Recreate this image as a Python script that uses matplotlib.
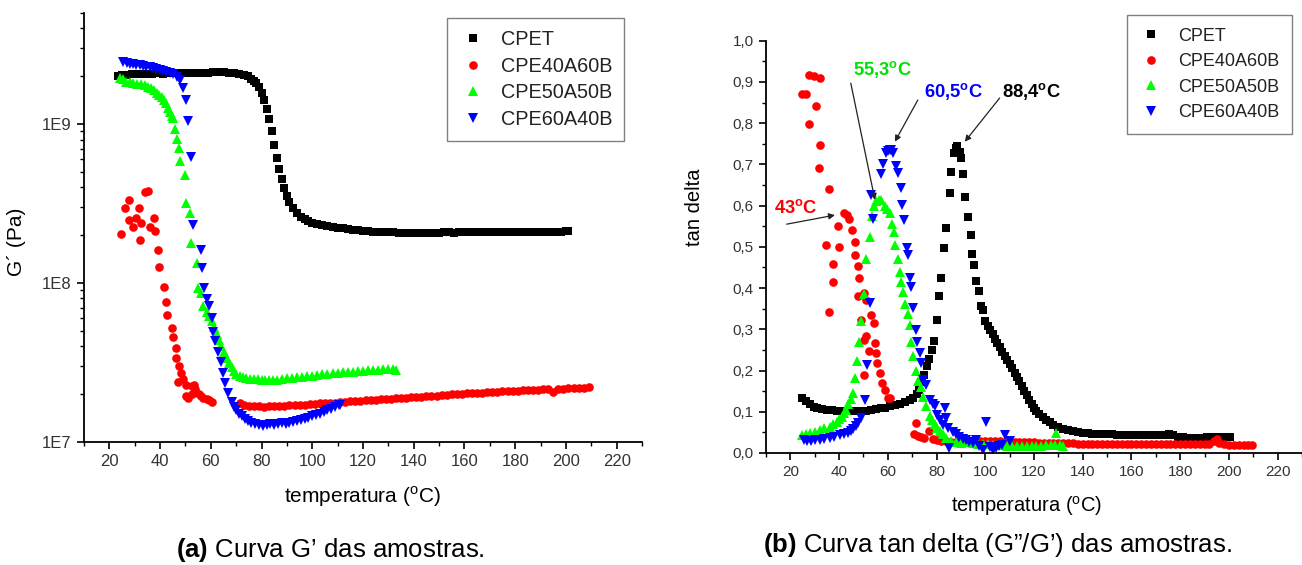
import numpy as np
import matplotlib
matplotlib.use('Agg')
import matplotlib.pyplot as plt
from matplotlib.ticker import MultipleLocator, FixedLocator, FixedFormatter, LogLocator, NullFormatter, FuncFormatter

plt.rcParams['font.family'] = ['Liberation Sans', 'DejaVu Sans']
plt.rcParams['mathtext.fontset'] = 'custom'
plt.rcParams['mathtext.rm'] = 'Liberation Sans'
plt.rcParams['mathtext.bf'] = 'Liberation Sans:bold'

labels = ['CPET', 'CPE40A60B', 'CPE50A50B', 'CPE60A40B']

# (a) G' vs temperatura, G' em unidades de 1e8 Pa
g_cpet = [(23.5, 20.0), (25, 20.3), (27, 20.5), (29, 20.6), (31, 20.7), (33, 20.7), (35, 20.8), (37, 20.8),
          (39, 20.9), (41, 20.8), (43, 20.9), (45, 20.9), (47, 21.0), (49, 21.0), (51, 21.0), (53, 21.1),
          (55, 21.1), (57, 21.0), (59, 21.1), (61, 21.2), (63, 21.2), (65, 21.2), (67, 21.1), (69, 21.0),
          (71, 20.8), (73, 20.5), (74.5, 20.0), (76, 19.3), (77, 18.8), (78, 18.2), (79, 17.2), (80, 15.8),
          (81, 14.2), (82, 12.5), (83, 10.8), (84, 9.0), (85, 7.4), (86, 6.1), (87, 5.2), (88, 4.5),
          (89, 3.95), (90, 3.55), (91, 3.25), (92.5, 2.95), (94, 2.75), (95.5, 2.62), (97, 2.52), (98.5, 2.45),
          (100, 2.40), (102, 2.35), (104, 2.31), (106, 2.28), (108, 2.25), (110, 2.23), (112, 2.21), (114, 2.19),
          (116, 2.17), (118, 2.15), (120, 2.13), (122, 2.12), (124, 2.11), (126, 2.10), (128, 2.09), (130, 2.08),
          (132, 2.08), (134, 2.07), (136, 2.07), (138, 2.07), (140, 2.06), (142, 2.07), (144, 2.07), (146, 2.06),
          (148, 2.07), (150, 2.07), (152, 2.08), (154, 2.08), (156, 2.07), (158, 2.08), (160, 2.08), (162, 2.08),
          (164, 2.09), (166, 2.08), (168, 2.09), (170, 2.09), (172, 2.08), (174, 2.09), (176, 2.09), (178, 2.10),
          (180, 2.09), (182, 2.09), (184, 2.10), (186, 2.10), (188, 2.09), (190, 2.10), (192, 2.10), (194, 2.10),
          (196, 2.11), (198, 2.10), (200, 2.12), (201, 2.13)]

g_cpe40 = [(24.7, 2.04), (26, 2.95), (27.6, 3.31), (27.9, 2.51), (29.5, 2.24), (30.5, 2.57), (31.7, 2.95),
           (32.2, 1.86), (32.3, 2.40), (34.2, 3.72), (35.4, 3.80), (36.2, 2.24), (37.5, 2.57), (37.8, 2.14),
           (39.2, 1.62), (39.4, 1.26), (41.5, 0.95), (42.5, 0.76), (42.9, 0.63), (44.5, 0.52), (44.9, 0.46),
           (46.2, 0.39), (46.3, 0.34), (47.1, 0.24), (47.5, 0.30), (48.4, 0.27), (49.2, 0.25), (50.1, 0.195),
           (50.4, 0.23), (51.0, 0.19), (52.4, 0.224), (52.6, 0.20), (53.2, 0.23), (53.9, 0.214), (55.2, 0.20),
           (56.0, 0.195), (57.0, 0.19), (58.3, 0.186), (59.3, 0.183), (60.3, 0.178),
           (71.5, 0.176), (73, 0.171), (75, 0.169), (77, 0.168), (79, 0.168), (81, 0.167), (83, 0.168),
           (85, 0.168), (87, 0.169), (89, 0.169), (91, 0.170), (93, 0.171), (95, 0.171), (97, 0.172),
           (99, 0.173), (101, 0.174), (103, 0.175), (105, 0.176), (107, 0.177), (109, 0.177), (111, 0.178),
           (113, 0.179), (115, 0.180), (117, 0.181), (119, 0.182), (121, 0.183), (123, 0.184), (125, 0.185),
           (127, 0.186), (129, 0.186), (131, 0.187), (133, 0.188), (135, 0.189), (137, 0.190), (139, 0.191),
           (141, 0.192), (143, 0.193), (145, 0.194), (147, 0.195), (149, 0.196), (151, 0.197), (153, 0.198),
           (155, 0.199), (157, 0.200), (159, 0.201), (161, 0.202), (163, 0.202), (165, 0.203), (167, 0.204),
           (169, 0.205), (171, 0.206), (173, 0.207), (175, 0.208), (177, 0.209), (179, 0.209), (181, 0.210),
           (183, 0.211), (185, 0.212), (187, 0.213), (189, 0.213), (191, 0.214), (193, 0.215), (195, 0.205),
           (197, 0.216), (199, 0.217), (201, 0.218), (203, 0.218), (205, 0.219), (207, 0.220), (209, 0.221)]

g_cpe50 = [(24.1, 19.4), (25.4, 19.2), (26.7, 18.5), (28.0, 18.3), (29.3, 18.1), (30.7, 18.0), (32.3, 17.8),
           (34.0, 17.6), (35.3, 17.1), (36.6, 16.8), (37.6, 16.3), (38.6, 15.7), (39.6, 15.3), (40.6, 14.8),
           (41.5, 14.2), (42.5, 13.5), (43.2, 12.7), (43.8, 11.9), (44.5, 11.3), (45.1, 10.9), (45.8, 9.3),
           (46.5, 8.1), (47.5, 7.1), (48.0, 5.9), (49.7, 4.8), (50.1, 3.2), (51.7, 2.75), (52.3, 1.78),
           (54.6, 1.33), (55.1, 0.93), (56.2, 0.86), (57.0, 0.72), (58.3, 0.66), (59.3, 0.62), (60.3, 0.575),
           (61.3, 0.53), (62.3, 0.48), (63.2, 0.44), (64.2, 0.40), (65.2, 0.37), (66.2, 0.34), (67.2, 0.315),
           (68.2, 0.295), (69.2, 0.28), (70.1, 0.269), (71.4, 0.262), (72.7, 0.257), (74.0, 0.253), (75.5, 0.250),
           (77.0, 0.249), (78.5, 0.248), (80.0, 0.246), (81.5, 0.246), (83.0, 0.245), (84.5, 0.246), (86, 0.247),
           (88, 0.249), (90, 0.251), (92, 0.253), (94, 0.255), (96, 0.257), (98, 0.260), (100, 0.262),
           (102, 0.264), (104, 0.266), (106, 0.268), (108, 0.270), (110, 0.272), (112, 0.274), (114, 0.276),
           (116, 0.277), (118, 0.279), (120, 0.280), (122, 0.282), (124, 0.283), (126, 0.285), (128, 0.287),
           (130, 0.289), (132, 0.290), (133, 0.285)]

g_cpe60 = [(25.5, 24.5), (26.8, 24.3), (28.0, 24.0), (29.3, 23.8), (30.6, 23.6), (32.0, 23.4), (33.3, 23.2),
           (34.6, 23.0), (35.9, 22.8), (37.2, 22.4), (38.5, 22.2), (39.8, 21.9), (41.2, 21.6), (42.5, 21.2),
           (43.8, 20.9), (45.1, 20.6), (46.5, 19.8), (47.8, 18.9), (49.1, 16.8), (50.1, 14.1), (51.0, 10.5),
           (52.1, 6.2), (53.0, 2.32), (56.3, 1.62), (56.7, 1.25), (57.2, 0.93), (58.3, 0.79), (59.2, 0.72),
           (60.3, 0.60), (60.9, 0.49), (61.5, 0.43), (62.9, 0.37), (64.2, 0.32), (64.9, 0.27), (65.5, 0.234),
           (66.8, 0.204), (68.2, 0.178), (69.2, 0.167), (70.1, 0.158), (71.1, 0.151), (72.1, 0.145), (73.4, 0.140),
           (74.7, 0.135), (76.0, 0.132), (77.4, 0.129), (79.0, 0.128), (80.5, 0.127), (82.0, 0.128), (83.5, 0.129),
           (85.0, 0.128), (86.5, 0.130), (88.0, 0.131), (89.5, 0.130), (91.0, 0.132), (92.5, 0.134), (94.0, 0.135),
           (95.5, 0.137), (97.0, 0.139), (98.5, 0.142), (100.0, 0.145), (101.5, 0.148), (103.0, 0.151),
           (104.5, 0.154), (106.0, 0.158), (107.5, 0.162), (109.0, 0.166), (110.5, 0.170), (111.0, 0.172)]

# (b) tan delta vs temperatura
td_cpet = [(24.9, 0.133), (26.5, 0.125), (28, 0.118), (29.5, 0.112), (31, 0.108), (33, 0.106), (35, 0.105),
           (37, 0.104), (39, 0.103), (41, 0.102), (43, 0.101), (45, 0.101), (47, 0.102), (49, 0.102), (51, 0.103),
           (53, 0.104), (55, 0.106), (57, 0.108), (59, 0.110), (61, 0.113), (63, 0.116), (65, 0.120), (67, 0.124),
           (69, 0.128), (70.5, 0.133), (72, 0.142), (73, 0.154), (74, 0.172), (75, 0.190), (76, 0.212), (77, 0.228),
           (78, 0.250), (79, 0.272), (80, 0.323), (81, 0.380), (82, 0.424), (83, 0.497), (84, 0.546), (85.5, 0.631),
           (86, 0.681), (87, 0.728), (88, 0.740), (88.5, 0.744), (89.5, 0.730), (90.1, 0.715), (90.9, 0.677),
           (91.7, 0.621), (93, 0.572), (94.2, 0.528), (94.7, 0.483), (95.3, 0.457), (96.3, 0.418), (97.4, 0.394),
           (98.2, 0.356), (99, 0.348), (99.9, 0.319), (101, 0.308), (102, 0.298), (103, 0.288), (104, 0.276),
           (105, 0.266), (106, 0.256), (107, 0.246), (108, 0.236), (109, 0.226), (110, 0.216), (111, 0.205),
           (112, 0.195), (113, 0.185), (114, 0.174), (115, 0.163), (116, 0.151), (117, 0.140), (118, 0.129),
           (119, 0.118), (120, 0.110), (121, 0.102), (122, 0.095), (123.5, 0.088), (125, 0.081), (126.5, 0.075),
           (128, 0.069), (130, 0.063), (132, 0.059), (134, 0.056), (136, 0.053), (138, 0.051), (140, 0.049),
           (142, 0.048), (144, 0.047), (146, 0.046), (148, 0.046), (150, 0.045), (152, 0.045), (154, 0.044),
           (156, 0.044), (158, 0.044), (160, 0.044), (162, 0.043), (164, 0.043), (166, 0.043), (168, 0.043),
           (170, 0.043), (172, 0.043), (174, 0.044), (175.5, 0.047), (177, 0.044), (179, 0.040), (181, 0.038),
           (183, 0.037), (185, 0.037), (187, 0.037), (189, 0.037), (191, 0.038), (193, 0.040), (195, 0.039),
           (197, 0.038), (199, 0.038), (200.5, 0.038)]

td_cpe40 = [(24.9, 0.871), (26.5, 0.871), (27.7, 0.798), (27.8, 0.918), (29.8, 0.914), (30.6, 0.841),
            (32.2, 0.909), (32.2, 0.748), (31.7, 0.691), (36.0, 0.641), (35.8, 0.342), (34.7, 0.504),
            (37.6, 0.459), (37.6, 0.414), (39.6, 0.550), (39.9, 0.500), (42.0, 0.582), (43.1, 0.578),
            (44.1, 0.567), (45.3, 0.540), (46.6, 0.511), (46.6, 0.481), (47.7, 0.453), (48.2, 0.424),
            (47.7, 0.380), (49.0, 0.323), (50.2, 0.388), (50.3, 0.275), (50.2, 0.190), (51.0, 0.372),
            (51.0, 0.283), (52.3, 0.247), (53.1, 0.335), (54.2, 0.315), (54.6, 0.267), (55.0, 0.243),
            (55.5, 0.218), (56.7, 0.194), (57.5, 0.170), (58.8, 0.154), (59.9, 0.133), (60.7, 0.133),
            (70.9, 0.047), (71.7, 0.073), (72.2, 0.042), (73.5, 0.039), (75, 0.036), (77, 0.053), (78.5, 0.034),
            (80, 0.032), (82, 0.030), (84, 0.028), (86, 0.027), (88, 0.026), (90, 0.026), (92, 0.027), (94, 0.027),
            (96, 0.028), (98, 0.028), (100, 0.028), (102, 0.029), (104, 0.028), (106, 0.028), (108, 0.027),
            (110, 0.027), (112, 0.027), (114, 0.026), (116, 0.026), (118, 0.026), (120, 0.026), (122, 0.025),
            (124, 0.025), (126, 0.025), (128, 0.025), (130, 0.024), (132, 0.024), (134, 0.024), (136, 0.024),
            (138, 0.023), (140, 0.023), (142, 0.023), (144, 0.023), (146, 0.023), (148, 0.022), (150, 0.022),
            (152, 0.022), (154, 0.022), (156, 0.022), (158, 0.022), (160, 0.022), (162, 0.022), (164, 0.022),
            (166, 0.021), (168, 0.021), (170, 0.021), (172, 0.021), (174, 0.021), (176, 0.021), (178, 0.021),
            (180, 0.021), (182, 0.021), (184, 0.021), (186, 0.021), (188, 0.021), (190, 0.021), (192, 0.022),
            (194, 0.030), (195, 0.033), (196, 0.024), (198, 0.021), (200, 0.020), (202, 0.020), (204, 0.020),
            (206, 0.019), (208, 0.019), (209.5, 0.019)]

td_cpe50 = [(24.6, 0.044), (26.5, 0.046), (28, 0.048), (30, 0.052), (32, 0.056), (34, 0.060), (36.2, 0.064),
            (37.5, 0.070), (39, 0.076), (40, 0.082), (41, 0.088), (42, 0.096), (42.8, 0.104), (43.8, 0.118),
            (44.8, 0.132), (45.8, 0.146), (46.6, 0.182), (47.3, 0.222), (48.2, 0.270), (48.9, 0.320),
            (50.3, 0.385), (51.0, 0.470), (52.5, 0.525), (53.6, 0.575), (54.5, 0.598), (55.3, 0.610),
            (56.3, 0.614), (57.4, 0.614), (58.7, 0.600), (59.8, 0.593), (60.8, 0.582), (61.8, 0.555),
            (62.5, 0.535), (63.1, 0.505), (64.2, 0.470), (64.9, 0.440), (65.6, 0.415), (66.3, 0.390),
            (67.0, 0.362), (68.1, 0.338), (69.0, 0.310), (69.7, 0.270), (70.4, 0.235), (71.5, 0.200),
            (72.4, 0.175), (73.8, 0.160), (74.5, 0.135), (75.8, 0.115), (77.2, 0.090), (78.2, 0.080),
            (79.2, 0.070), (80.3, 0.060), (81.3, 0.053), (82.6, 0.045), (84, 0.036), (86, 0.030), (88.1, 0.026),
            (90, 0.025), (92.5, 0.027), (95, 0.024), (97, 0.023), (99, 0.022), (101, 0.021), (103, 0.020),
            (105, 0.020), (107, 0.019), (109, 0.018), (111, 0.017), (113, 0.016), (115, 0.017), (117, 0.017),
            (119, 0.018), (121, 0.018), (123, 0.018), (125, 0.019), (127, 0.020), (128.5, 0.020), (129.2, 0.049),
            (130.5, 0.020), (131.7, 0.016)]

td_cpe60 = [(25.4, 0.032), (27, 0.030), (28.5, 0.030), (30, 0.031), (32, 0.032), (34, 0.034), (36.2, 0.036),
            (38, 0.039), (40.3, 0.044), (42, 0.046), (43.7, 0.048), (45, 0.053), (45.8, 0.059), (47, 0.065),
            (47.8, 0.072), (48.9, 0.084), (50.5, 0.128), (51.3, 0.213), (52.5, 0.363), (53.2, 0.626),
            (53.9, 0.568), (57.4, 0.677), (58, 0.702), (59.4, 0.727), (60.1, 0.733), (60.8, 0.736),
            (61.5, 0.734), (62.2, 0.728), (63.5, 0.695), (64.2, 0.680), (65.6, 0.642), (66, 0.602),
            (66.6, 0.566), (67.7, 0.497), (68.1, 0.480), (69, 0.424), (69.7, 0.403), (70.4, 0.351),
            (71.5, 0.298), (72, 0.270), (73.1, 0.242), (73.8, 0.218), (74.5, 0.178), (75.8, 0.166),
            (77.2, 0.128), (78.5, 0.120), (79.2, 0.113), (80.2, 0.093), (81.3, 0.080), (82.5, 0.068),
            (83.6, 0.110), (84, 0.084), (84.6, 0.060), (85.3, 0.012), (86.7, 0.052), (88, 0.045), (89.4, 0.040),
            (91, 0.035), (92.2, 0.031), (93.5, 0.027), (94.9, 0.024), (96.3, 0.032), (97.5, 0.018), (99, 0.008),
            (100.4, 0.076), (101.8, 0.014), (103.1, 0.008), (104.5, 0.012), (105.8, 0.016), (107, 0.020),
            (108.3, 0.044), (110, 0.028)]

# picos anotados: texto, cor, posicao do texto, inicio e fim da seta
peaks = [('43', '#ff0000', (22.3, 0.594), (18.5, 0.555), (38.3, 0.577)),
         ('55,3', '#00e000', (58.0, 0.931), (44.8, 0.897), (54.7, 0.614)),
         ('60,5', '#0000ff', (86.8, 0.876), (72.3, 0.856), (62.9, 0.755)),
         ('88,4', '#000000', (119.0, 0.876), (105.9, 0.861), (91.6, 0.755))]

styles = [dict(marker='s', color='#000000', ms=5.2),
          dict(marker='o', color='#ff0000', ms=6.2),
          dict(marker='^', color='#00ff00', ms=6.5),
          dict(marker='v', color='#0000ff', ms=6.5)]

W, H = 1302, 565
fig = plt.figure(figsize=(W / 100, H / 100), dpi=100)
ax1 = fig.add_axes([84 / W, 123 / H, 558 / W, 429 / H])
ax2 = fig.add_axes([766 / W, 112 / H, 536 / W, 412.3 / H])


def style_axes(ax, labelsize):
    for s in ['top', 'right']:
        ax.spines[s].set_visible(False)
    for s in ['left', 'bottom']:
        ax.spines[s].set_linewidth(1.3)
    ax.tick_params(which='major', direction='out', length=5, width=1.2, labelsize=labelsize,
                   labelcolor='#333333', pad=4)
    ax.tick_params(which='minor', direction='out', length=3, width=1.0)
    ax.set_xlim(10, 230)
    ax.xaxis.set_major_locator(MultipleLocator(20))
    ax.xaxis.set_minor_locator(MultipleLocator(10))
    ax.xaxis.set_major_formatter(FuncFormatter(lambda v, p: '%d' % v if 20 <= v <= 220 else ''))


def style_legend(leg):
    leg.get_frame().set_linewidth(1.0)
    for txt in leg.get_texts():
        txt.set_color('#222222')


# painel (a)
handles = []
for data, st, lab in zip([g_cpet, g_cpe40, g_cpe50, g_cpe60], styles, labels):
    t = [p[0] for p in data]
    g = np.array([p[1] for p in data]) * 1e8
    h, = ax1.plot(t, g, linestyle='none', marker=st['marker'], color=st['color'],
                  ms=st['ms'], mew=0, label=lab)
    handles.append(h)
ax1.set_yscale('log')
ax1.set_ylim(1e7, 5e9)
style_axes(ax1, 12)
ax1.yaxis.set_major_locator(FixedLocator([1e7, 1e8, 1e9]))
ax1.yaxis.set_major_formatter(FixedFormatter(['1E7', '1E8', '1E9']))
ax1.yaxis.set_minor_locator(LogLocator(base=10, subs=np.arange(2, 10)))
ax1.yaxis.set_minor_formatter(NullFormatter())

leg1 = ax1.legend(handles=handles, loc='upper left', bbox_to_anchor=(447 / W, 1 - 18 / H),
                  bbox_transform=fig.transFigure, fontsize=14.3, fancybox=False, edgecolor='#808080',
                  borderpad=0.6, handlelength=1.4, handletextpad=0.7, labelspacing=0.39,
                  borderaxespad=0, numpoints=1, framealpha=1)
style_legend(leg1)

# painel (b)
handles2 = []
for data, st, lab in zip([td_cpet, td_cpe40, td_cpe50, td_cpe60], styles, labels):
    t = [p[0] for p in data]
    v = [p[1] for p in data]
    h, = ax2.plot(t, v, linestyle='none', marker=st['marker'], color=st['color'],
                  ms=st['ms'], mew=0, label=lab)
    handles2.append(h)
ax2.set_ylim(0, 1.0)
style_axes(ax2, 11)
ax2.yaxis.set_major_locator(MultipleLocator(0.1))
ax2.yaxis.set_minor_locator(MultipleLocator(0.05))
ax2.yaxis.set_major_formatter(FuncFormatter(lambda v, p: ('%.1f' % v).replace('.', ',')))

leg2 = ax2.legend(handles=handles2, loc='upper left', bbox_to_anchor=(1127 / W, 1 - 15 / H),
                  bbox_transform=fig.transFigure, fontsize=13, fancybox=False, edgecolor='#808080',
                  borderpad=0.7, handlelength=1.3, handletextpad=0.83, labelspacing=0.47,
                  borderaxespad=0, numpoints=1, framealpha=1)
style_legend(leg2)

for val, col, txy, a0, a1 in peaks:
    ax2.annotate('', xy=a1, xytext=a0,
                 arrowprops=dict(arrowstyle='-|>', color='#222222', lw=0.9, mutation_scale=9,
                                 shrinkA=0, shrinkB=0))
    ax2.text(txy[0], txy[1], val + r'$^\mathbf{o}$C', color=col, fontsize=13.2, fontweight='bold',
             ha='center', va='center')

# rotulos dos eixos
fig.text(17 / W, 1 - 242 / H, 'G´ (Pa)', rotation=90, ha='center', va='center', fontsize=15)
fig.text(362 / W, 1 - 497 / H, r'temperatura ($^\mathrm{o}$C)', ha='center', va='center', fontsize=15)
fig.text(695 / W, 1 - 207 / H, 'tan delta', rotation=90, ha='center', va='center', fontsize=14.5)
fig.text(1027 / W, 1 - 506 / H, r'temperatura ($^\mathrm{o}$C)', ha='center', va='center', fontsize=14.5)

# legendas das figuras
fig.text(330 / W, 1 - 550 / H, r'$\mathbf{(a)}$ Curva G’ das amostras.', ha='center', va='center',
         fontsize=18.5)
fig.text(997 / W, 1 - 545 / H, r'$\mathbf{(b)}$ Curva tan delta (G”/G’) das amostras.', ha='center',
         va='center', fontsize=18.5)

fig.savefig('out.png', dpi=100)
